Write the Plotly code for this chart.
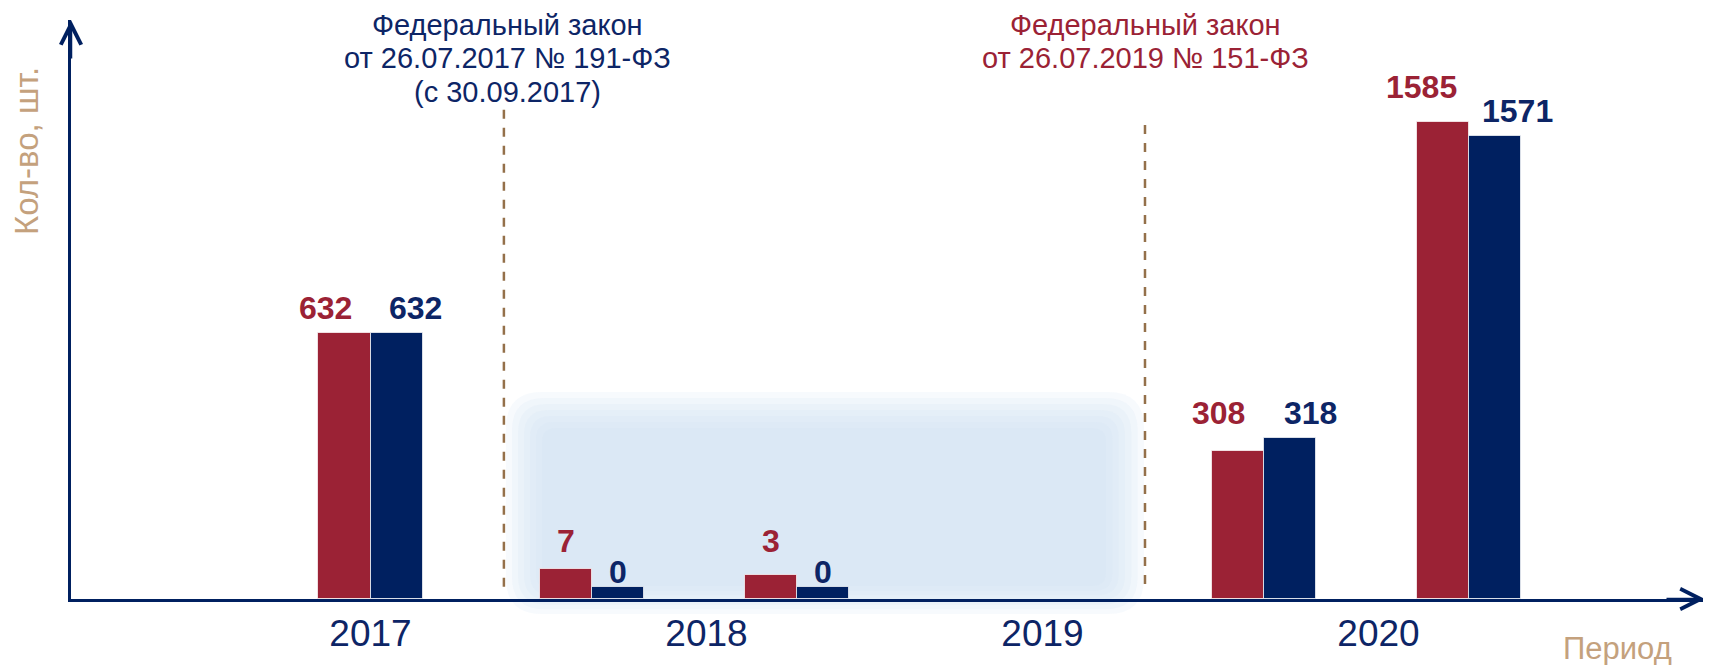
import plotly.graph_objects as go

# ---------------- data ----------------
year_ticks = ["2017", "2018", "2019", "2020"]
group_years = [2017, 2018, 2018, 2020, 2020]          # each group = pair of bars
red_values = [632, 7, 3, 308, 1585]                   # labels of red bars
navy_values = [632, 0, 0, 318, 1571]                  # labels of navy bars
# the original chart is schematic (not to scale): bar heights as drawn,
# in % of the vertical axis length
red_heights_drawn = [45.9, 5.2, 4.1, 25.6, 82.4]
navy_heights_drawn = [45.9, 2.1, 2.1, 27.8, 80.0]

law_lines = [
    ["Федеральный закон", "от 26.07.2017 № 191-ФЗ", "(с 30.09.2017)"],
    ["Федеральный закон", "от 26.07.2019 № 151-ФЗ"],
]
y_title = "Кол-во, шт."
x_title = "Период"

# ---------------- styles / layout ----------------
RED = "#9B2235"
NAVY = "#002060"
NAVY_TXT = "#0D2566"
TAN = "#C4A17D"
BROWN = "#94704A"
FONT = "Liberation Sans, Arial, sans-serif"

OFF = 8                       # default page body margin
W, H = 1711 - OFF, 665 - OFF
ML, MR, MT, MB = 71 - OFF, 6, 20 - OFF, 66
PW, PH = W - ML - MR, H - MT - MB
X_RANGE = [2016.1086, 2020.9717]
Y_RANGE = [0, 100]
BAR_W = 0.155
SUB_OFFSETS = {1: [0.0], 2: [-0.34, 0.27]}
LABEL_SPREAD_PX = [19, 0, 0, 20, 22]
RED_LABEL_GAP = [25, 28, 34, 38, 35]
NAVY_LABEL_GAP = [25, 15, 15, 25, 25]
LAW_X = [2017.397, 2019.305]
LAW_XSHIFT = [4, 1]
LAW_Y = [(2.1, 84.6), (2.6, 81.9)]
LAW_COLORS = [NAVY_TXT, RED]
LAW_LINE_PX = [25, 58.5, 92]


def sx(px):      # screen px -> paper x
    return (px - OFF - ML) / PW


def sy(py):      # screen py -> paper y
    return (H - MB - (py - OFF)) / PH


# group centre positions (boundary between red and navy bar)
counts = {}
for yv in group_years:
    counts[yv] = counts.get(yv, 0) + 1
seen = {}
pos = []
for yv in group_years:
    k = seen.get(yv, 0)
    pos.append(yv + SUB_OFFSETS[counts[yv]][k])
    seen[yv] = k + 1

fig = go.Figure()
fig.add_trace(go.Bar(x=pos, y=red_heights_drawn, width=BAR_W, offset=-BAR_W,
                     marker=dict(color=RED, line=dict(color="rgba(255,255,255,0.7)", width=1)),
                     hoverinfo="skip", showlegend=False))
fig.add_trace(go.Bar(x=pos, y=navy_heights_drawn, width=BAR_W, offset=0,
                     marker=dict(color=NAVY, line=dict(color="rgba(255,255,255,0.7)", width=1)),
                     hoverinfo="skip", showlegend=False))

ann = []
for i, p in enumerate(pos):
    ann.append(dict(x=p - BAR_W / 2, y=red_heights_drawn[i], xref="x", yref="y",
                    text=f"<b>{red_values[i]}</b>", showarrow=False,
                    xshift=-LABEL_SPREAD_PX[i], yshift=RED_LABEL_GAP[i], yanchor="middle",
                    font=dict(family=FONT, size=32, color=RED)))
    ann.append(dict(x=p + BAR_W / 2, y=navy_heights_drawn[i], xref="x", yref="y",
                    text=f"<b>{navy_values[i]}</b>", showarrow=False,
                    xshift=LABEL_SPREAD_PX[i], yshift=NAVY_LABEL_GAP[i], yanchor="middle",
                    font=dict(family=FONT, size=32, color=NAVY_TXT)))

# law notes (one annotation per line)
for lx, xs, lines, col in zip(LAW_X, LAW_XSHIFT, law_lines, LAW_COLORS):
    for line, ly in zip(lines, LAW_LINE_PX):
        ann.append(dict(x=lx, y=sy(ly), xref="x", yref="paper", xanchor="center",
                        yanchor="middle", xshift=xs, text=line, showarrow=False,
                        font=dict(family=FONT, size=29, color=col)))

# axis titles
ann.append(dict(x=sx(27), y=sy(151), xref="paper", yref="paper",
                xanchor="center", yanchor="middle",
                text=y_title, textangle=-90, showarrow=False,
                font=dict(family=FONT, size=33, color=TAN)))
ann.append(dict(x=sx(1617), y=sy(648), xref="paper", yref="paper",
                xanchor="center", yanchor="middle",
                text=x_title, showarrow=False,
                font=dict(family=FONT, size=31, color=TAN)))

# axis arrowheads
ann.append(dict(x=1, y=0, xref="paper", yref="paper", ax=-40, ay=0,
                axref="pixel", ayref="pixel", text="", showarrow=True,
                arrowhead=5, arrowsize=1.6, arrowwidth=2.5, arrowcolor=NAVY))
ann.append(dict(x=0, y=1, xref="paper", yref="paper", ax=0, ay=40,
                axref="pixel", ayref="pixel", text="", showarrow=True,
                arrowhead=5, arrowsize=1.6, arrowwidth=2.5, arrowcolor=NAVY))

shapes = []


def rrect(x0, y0, x1, y1, rx, ry):
    return (f"M{x0 + rx},{y0} L{x1 - rx},{y0} Q{x1},{y0} {x1},{y0 + ry} "
            f"L{x1},{y1 - ry} Q{x1},{y1} {x1 - rx},{y1} L{x0 + rx},{y1} "
            f"Q{x0},{y1} {x0},{y1 - ry} L{x0},{y0 + ry} Q{x0},{y0} {x0 + rx},{y0} Z")


# soft light-blue background box (2018-2019 area), built from stacked layers
outer = (506, 392, 1144, 614, 36)
inner = (542, 428, 1106, 586, 14)
NL = 7
for k in range(NL):
    t = k / (NL - 1)
    a, b, c, d, r = [o + (i - o) * t for o, i in zip(outer, inner)]
    x0, y1 = sx(a), sy(b)
    x1, y0 = sx(c), sy(d)
    shapes.append(dict(type="path", xref="paper", yref="paper", layer="below",
                       path=rrect(x0, y0, x1, y1, r / PW, r / PH),
                       fillcolor="rgba(205,223,242,0.17)", line=dict(width=0)))

for lx, (ya, yb) in zip(LAW_X, LAW_Y):
    shapes.append(dict(type="line", xref="x", yref="y", x0=lx, x1=lx, y0=ya, y1=yb,
                       line=dict(color=BROWN, width=2.5, dash="9px,9px")))

fig.update_layout(
    width=W, height=H, margin=dict(l=ML, r=MR, t=MT, b=MB),
    paper_bgcolor="white", plot_bgcolor="rgba(0,0,0,0)",
    barmode="overlay", bargap=0,
    annotations=ann, shapes=shapes, showlegend=False,
    xaxis=dict(range=X_RANGE, tickvals=[int(t) for t in year_ticks], ticktext=year_ticks,
               showgrid=False, zeroline=False, showline=True, linecolor=NAVY, linewidth=2.5,
               ticks="", tickfont=dict(family=FONT, size=37, color=NAVY_TXT), fixedrange=True),
    yaxis=dict(range=Y_RANGE, showgrid=False, zeroline=False, showline=True, linecolor=NAVY,
               linewidth=2.5, showticklabels=False, ticks="", fixedrange=True),
)

fig.write_html("out.html")
